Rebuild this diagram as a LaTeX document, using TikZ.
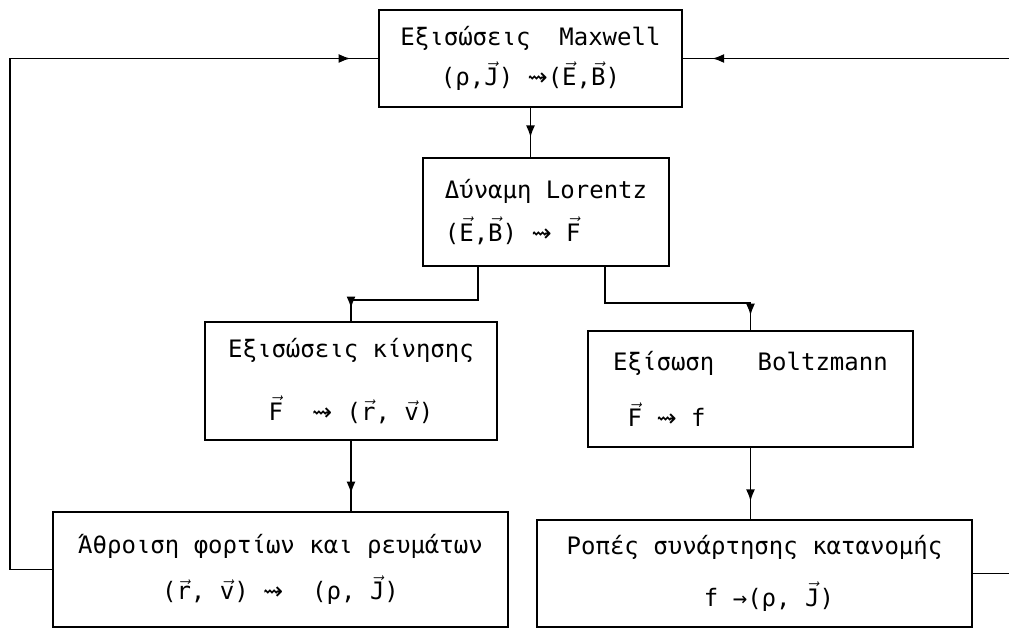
\documentclass[tikz,border=0pt]{standalone}
\usepackage{fontspec}
\setmainfont{DejaVu Sans Mono}
\newfontfamily\arrf{DejaVu Sans}
\usetikzlibrary{arrows.meta,decorations.markings}
\newcommand\vecx[1]{\ensuremath{\vec{\mbox{#1}}}}
\newcommand\sqarr{{\arrf ⇝}}
\begin{document}
\begin{tikzpicture}[x=1pt,y=-1pt,
  box/.style={draw, line width=1.6pt, inner sep=0pt, font=\fontsize{24}{29}\selectfont, align=center},
  conn/.style={line width=1.6pt},
  arr/.style={postaction={decorate}, decoration={markings, mark=at position #1 with {\arrow{Latex[length=12pt,width=9pt]}}}}
]
\useasboundingbox (0,0) rectangle (1009,639);

\node[box, minimum width=303pt, minimum height=97pt] (max) at (530.5,58.5)
  {Εξισώσεις~~Maxwell\\[10pt](ρ,\vecx{J}) \sqarr(\vecx{E},\vecx{B})};
\node[box, align=left, minimum width=246pt, minimum height=108pt] (lor) at (546,212)
  {Δύναμη Lorentz\\[12pt](\vecx{E},\vecx{B}) \sqarr{} \vecx{F}};
\node[box, minimum width=292pt, minimum height=118pt] (mot) at (351,381)
  {Εξισώσεις κίνησης\\[33pt]\vecx{F}~~\sqarr{} (\vecx{r}, \vecx{v})};
\node[box, align=left, minimum width=325pt, minimum height=116pt] (bol) at (750.5,389)
  {Εξίσωση~~~Boltzmann\\[26pt]~\vecx{F} \sqarr{} f};
\node[box, minimum width=455pt, minimum height=115pt] (sum) at (280.5,569.5)
  {Άθροιση φορτίων και ρευμάτων\\[16pt](\vecx{r}, \vecx{v}) \sqarr{}~~(ρ, \vecx{J})};
\node[box, minimum width=435pt, minimum height=107pt] (dis) at (754.5,573.5)
  {Ροπές συνάρτησης κατανομής\\[21pt]~~f →(ρ, \vecx{J})};

\coordinate (lft) at (10,0);
\coordinate (rgt) at (1009,0);

\draw[conn, arr=0.6] (max.south) -- (max.south |- lor.north);
\draw[conn, arr=0.93] ([xshift=-68pt]lor.south) -- ++(0,33) -| (mot.north);
\draw[conn, arr=0.93] ([xshift=59pt]lor.south) -- ++(0,36) -| (bol.north);
\draw[conn, arr=0.75] (mot.south) -- (mot.south |- sum.north);
\draw[conn, arr=0.75] (bol.south) -- (bol.south |- dis.north);
\draw[conn, arr=0.97] (sum.west) -- (sum.west -| lft) -- (lft |- max.west) -- (max.west);
\draw[conn] (dis.east) -- (dis.east -| rgt);
\draw[conn, arr=0.91] (max.east -| rgt) -- (max.east);
\end{tikzpicture}
\end{document}
